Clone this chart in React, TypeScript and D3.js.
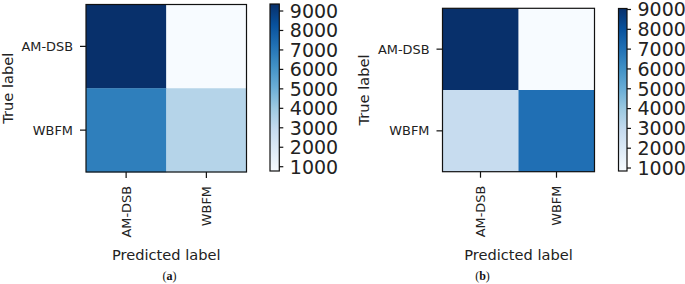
import React from 'react';
import * as d3 from 'd3';

// ---- data ----
const classes: string[] = ['AM-DSB', 'WBFM'];
const matrixA: number[][] = [
  [9360, 780],
  [6750, 3390],
];
const matrixB: number[][] = [
  [9050, 850],
  [2850, 7050],
];
const colorbarTicks: number[] = [1000, 2000, 3000, 4000, 5000, 6000, 7000, 8000, 9000];
const captions: string[] = ['a', 'b'];

// matplotlib "Blues" colormap anchors
const bluesColors = ['#f7fbff', '#deebf7', '#c6dbef', '#9ecae1', '#6baed6', '#4292c6', '#2171b5', '#08519c', '#08306b'];

const FONT = "'DejaVu Sans', Verdana, sans-serif";

interface Layout {
  hx0: number; hx1: number; hy0: number; hy1: number;
  cx0: number; cx1: number; cy0: number; cy1: number;
  yTitleX: number; captionX: number;
}

const layouts: Layout[] = [
  { hx0: 86, hx1: 246.5, hy0: 4.5, hy1: 172, cx0: 270, cx1: 279.3, cy0: 4, cy1: 171, yTitleX: 13.3, captionX: 169.5 },
  { hx0: 442.5, hx1: 594.5, hy0: 8.3, hy1: 171.7, cx0: 618.5, cx1: 627, cy0: 8.5, cy1: 171, yTitleX: 369, captionX: 482.5 },
];

function Panel({ matrix, lay, caption, id }: { matrix: number[][]; lay: Layout; caption: string; id: string }) {
  const flat = matrix.flat();
  const vmin = d3.min(flat) as number;
  const vmax = d3.max(flat) as number;
  const cmapPos = d3.scaleLinear().domain([vmin, vmax]).range([0, 1]);
  const cmap = d3
    .scaleLinear<string>()
    .domain(bluesColors.map((_, i) => i / (bluesColors.length - 1)))
    .range(bluesColors)
    .interpolate(d3.interpolateRgb)
    .clamp(true);
  const color = (v: number) => cmap(cmapPos(v));

  const x = d3.scaleBand<string>().domain(classes).range([lay.hx0, lay.hx1]);
  const y = d3.scaleBand<string>().domain(classes).range([lay.hy0, lay.hy1]);
  const cy = d3.scaleLinear().domain([vmin, vmax]).range([lay.cy1, lay.cy0]);

  const midX = (lay.hx0 + lay.hx1) / 2;
  const midY = (lay.hy0 + lay.hy1) / 2;
  const textColor = '#222';

  return (
    <g>
      <defs>
        <linearGradient id={id} x1="0" y1="1" x2="0" y2="0">
          {bluesColors.map((c, i) => (
            <stop key={i} offset={i / (bluesColors.length - 1)} stopColor={c} />
          ))}
        </linearGradient>
      </defs>
      {/* cells */}
      {matrix.map((row, i) =>
        row.map((v, j) => (
          <rect
            key={`${i}-${j}`}
            x={x(classes[j])}
            y={y(classes[i])}
            width={x.bandwidth() + 0.3}
            height={y.bandwidth() + 0.3}
            fill={color(v)}
          />
        ))
      )}
      <rect x={lay.hx0} y={lay.hy0} width={lay.hx1 - lay.hx0} height={lay.hy1 - lay.hy0} fill="none" stroke="#111" strokeWidth={1.2} />
      {/* y ticks */}
      {classes.map((c) => {
        const yy = (y(c) as number) + y.bandwidth() / 2;
        return (
          <g key={`yt-${c}`}>
            <line x1={lay.hx0 - 6} x2={lay.hx0} y1={yy} y2={yy} stroke="#111" strokeWidth={1.2} />
            <text x={lay.hx0 - 13} y={yy} dy="0.36em" textAnchor="end" fontSize={12.9} fontFamily={FONT} fill={textColor}>
              {c}
            </text>
          </g>
        );
      })}
      {/* x ticks */}
      {classes.map((c) => {
        const xx = (x(c) as number) + x.bandwidth() / 2;
        return (
          <g key={`xt-${c}`}>
            <line x1={xx} x2={xx} y1={lay.hy1} y2={lay.hy1 + 6} stroke="#111" strokeWidth={1.2} />
            <text
              transform={`translate(${xx},${lay.hy1 + 14}) rotate(-90)`}
              dy="0.36em"
              textAnchor="end"
              fontSize={12.9}
              fontFamily={FONT}
              fill={textColor}
            >
              {c}
            </text>
          </g>
        );
      })}
      {/* axis titles */}
      <text transform={`translate(${lay.yTitleX},${midY}) rotate(-90)`} textAnchor="middle" fontSize={14.6} fontFamily={FONT} fill={textColor}>
        True label
      </text>
      <text x={midX} y={259.5} textAnchor="middle" fontSize={14.6} fontFamily={FONT} fill={textColor}>
        Predicted label
      </text>
      {/* caption */}
      <text x={lay.captionX} y={280} textAnchor="middle" fontSize={12} fontFamily="'Liberation Serif', 'Times New Roman', serif" fill="#111">
        (<tspan fontWeight="bold">{caption}</tspan>)
      </text>
      {/* colorbar */}
      <rect x={lay.cx0} y={lay.cy0} width={lay.cx1 - lay.cx0} height={lay.cy1 - lay.cy0} fill={`url(#${id})`} stroke="#111" strokeWidth={1.2} />
      {colorbarTicks.map((t) => (
        <g key={`ct-${t}`}>
          <line x1={lay.cx1} x2={lay.cx1 + 4} y1={cy(t)} y2={cy(t)} stroke="#111" strokeWidth={1.2} />
          <text x={lay.cx1 + 10.5} y={cy(t)} dy="0.36em" fontSize={19} fontFamily={FONT} fill={textColor}>
            {t}
          </text>
        </g>
      ))}
    </g>
  );
}

export default function App() {
  const mats = [matrixA, matrixB];
  return (
    <svg width={685} height={284} style={{ position: 'absolute', left: 0, top: 0, background: '#fff' }}>
      <rect width={685} height={284} fill="#fff" />
      {mats.map((m, i) => (
        <Panel key={i} matrix={m} lay={layouts[i]} caption={captions[i]} id={`cbar-grad-${i}`} />
      ))}
    </svg>
  );
}
